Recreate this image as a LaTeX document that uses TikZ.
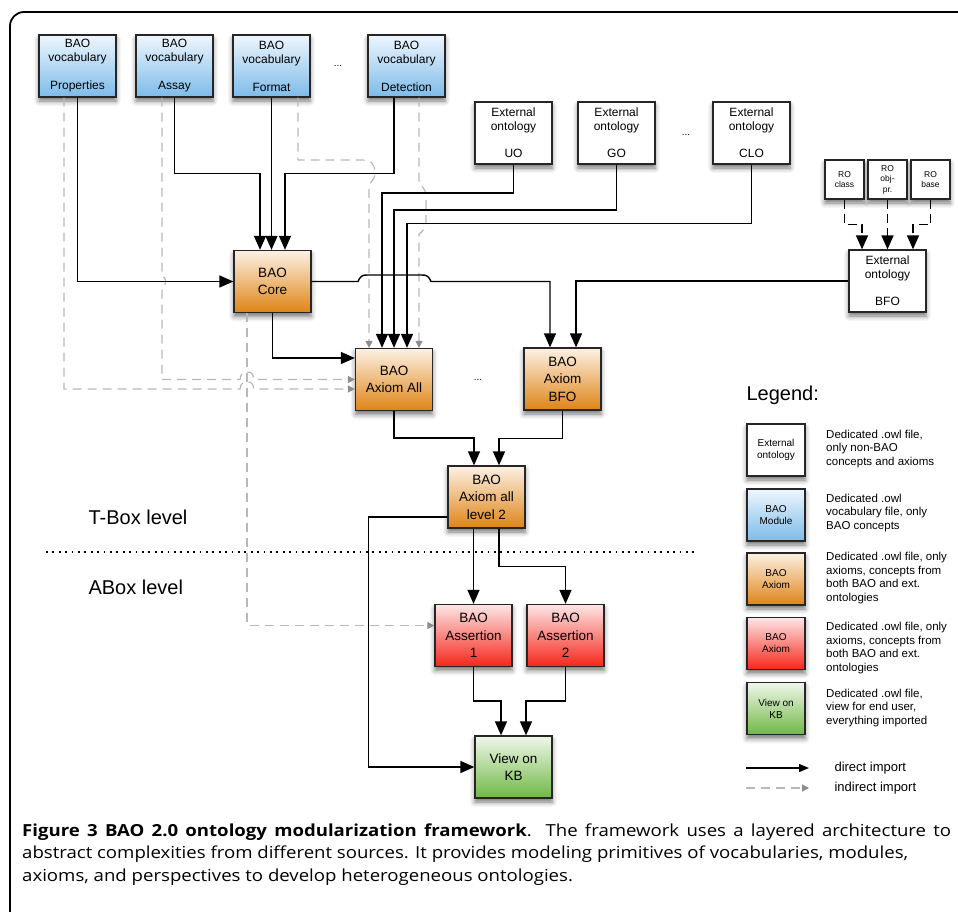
\documentclass[tikz,border=0pt]{standalone}
\usepackage{fontspec}
\setmainfont{Liberation Sans}
\newfontfamily\capfont[FakeStretch=1.12]{Open Sans}
\usetikzlibrary{arrows.meta,shadows.blur}

\definecolor{blueTop}{HTML}{EEF6FD}
\definecolor{blueBot}{HTML}{7DBBE9}
\definecolor{orTop}{HTML}{FCF1E4}
\definecolor{orBot}{HTML}{DF8416}
\definecolor{redTop}{HTML}{FDE6E6}
\definecolor{redBot}{HTML}{F5261A}
\definecolor{grTop}{HTML}{F0F7EA}
\definecolor{grBot}{HTML}{70B845}
\definecolor{indGray}{HTML}{B8B8B8}
\definecolor{tipGray}{HTML}{8C8C8C}

\tikzset{
  box/.style={draw=black!85, line width=1.3pt, minimum width=77pt, minimum height=62pt,
    inner sep=0pt, align=center,
    blur shadow={shadow xshift=0pt, shadow yshift=-4pt, shadow blur radius=5pt, shadow opacity=55}},
  voc/.style={box, top color=blueTop, bottom color=blueBot, font=\fontsize{12}{14}\selectfont},
  ext/.style={box, fill=white, font=\fontsize{12}{13.7}\selectfont},
  ax/.style={box, top color=orTop, bottom color=orBot, font=\fontsize{13.5}{17.5}\selectfont},
  asr/.style={box, top color=redTop, bottom color=redBot, font=\fontsize{13.5}{17.5}\selectfont},
  kbbox/.style={box, top color=grTop, bottom color=grBot, font=\fontsize{13.5}{17.5}\selectfont},
  ro/.style={box, fill=white, minimum width=39pt, minimum height=39pt, font=\fontsize{8.5}{10.5}\selectfont},
  leg/.style={box, minimum width=58pt, minimum height=52pt, font=\fontsize{10}{12}\selectfont},
  desc/.style={anchor=west, align=left, inner sep=0pt, font=\fontsize{11.5}{13.4}\selectfont},
  imp/.style={line width=1.4pt, -{Triangle[length=14pt,width=12pt]}},
  roimp/.style={imp, dash pattern=on 9pt off 5pt},
  ind/.style={indGray, line width=1.2pt, dash pattern=on 9pt off 6pt,
    -{Triangle[length=7pt,width=7pt,color=tipGray,fill=tipGray]}},
  capline/.style={anchor=base west, inner sep=0pt, font=\capfont\fontsize{16.6}{22}\selectfont},
}

\begin{document}
\begin{tikzpicture}[x=1pt, y=-1pt]
    \useasboundingbox (0,0) rectangle (958,911);
    \draw[line width=1.8pt, rounded corners=14pt] (10,940) -- (10,12) -- (990,12);

    \node[voc] (Prop) at (77.5,66) {BAO\\vocabulary\\[14pt]Properties};
    \node[voc] (Assay) at (174.5,66) {BAO\\vocabulary\\[14pt]Assay};
    \node[voc] (Format) at (271.5,66) {BAO\\vocabulary\\[14pt]Format};
    \node[voc] (Detect) at (406.5,66) {BAO\\vocabulary\\[14pt]Detection};
    \node[font=\fontsize{10}{12}\selectfont] (dotsA) at (338,66) {...};

    \node[ext] (UO) at (513.5,133) {External\\ontology\\[13.7pt]UO};
    \node[ext] (GO) at (616.5,133) {External\\ontology\\[13.7pt]GO};
    \node[ext] (CLO) at (751.5,133) {External\\ontology\\[13.7pt]CLO};
    \node[font=\fontsize{10}{12}\selectfont] (dotsB) at (686,135) {...};

    \node[ro] (ROc) at (844.5,179.5) {RO\\class};
    \node[ro] (ROo) at (887.5,179.5) {RO\\obj-\\pr.};
    \node[ro] (ROb) at (930.5,179.5) {RO\\base};
    \node[ext] (BFO) at (887.5,281) {External\\ontology\\[13.7pt]BFO};

    \node[ax] (Core) at (272.5,281.5) {BAO\\Core};
    \node[ax] (AxAll) at (394,379.5) {BAO\\Axiom All};
    \node[ax] (AxBFO) at (562.5,379) {BAO\\Axiom\\BFO};
    \node[font=\fontsize{10}{12}\selectfont] (dotsC) at (478,380) {...};
    \node[ax] (AxL2) at (486.5,497) {BAO\\Axiom all\\level 2};
    \node[asr] (As1) at (473.5,635.5) {BAO\\Assertion\\1};
    \node[asr] (As2) at (565.5,635.5) {BAO\\Assertion\\2};
    \node[kbbox] (KB) at (513.5,767) {View on\\KB};

    \node[anchor=west, font=\fontsize{20}{24}\selectfont] (tbox) at (85,517) {T-Box level};
    \node[anchor=west, font=\fontsize{20}{24}\selectfont] (abox) at (85,587) {ABox level};
    \coordinate (sepL) at (46,552);
    \coordinate (sepR) at (697,552);
    \draw[line width=1.8pt, dash pattern=on 1.8pt off 4.6pt] (sepL) -- (sepR);

    % indirect imports
    \draw[ind] ([xshift=-13.5pt]Prop.south) -- (64,389) -- (240,389) .. controls (241,383) and (243,382) .. (247,382) .. controls (251,382) and (253,383) .. (254,389) -- ([yshift=-9.5pt]AxAll.west);
    \draw[ind] ([xshift=-12.5pt]Assay.south) -- (162,276) .. controls (167,277) and (167,286) .. (162,287) -- (162,379.5) -- (240,379.5) .. controls (241,373) and (243,372) .. (247,372) .. controls (251,372) and (253,373) .. (254,379.5) -- (AxAll.west);
    \draw[ind] ([xshift=26.5pt]Format.south) -- (298,160) -- (362,160) .. controls (372,160) and (375,165) .. (375,173) .. controls (375,181) and (369,181) .. (369,188) -- ([xshift=-25pt]AxAll.north);
    \draw[ind] ([xshift=12.5pt]Detect.south) -- (419,184) .. controls (425,188) and (426,192) .. (426,198) -- (426,220) .. controls (426,226) and (425,230) .. (419,234) -- ([xshift=25pt]AxAll.north);
    \draw[ind] ([xshift=-25.5pt]Core.south) |- ([yshift=10pt]As1.west);

    % direct imports
    \draw[imp] (Prop.south) |- (Core.west);
    \draw[imp] (Assay.south) -- ++(0,76) -| ([xshift=-12.5pt]Core.north);
    \draw[imp] (Format.south) -- (Format.south |- Core.north);
    \draw[imp] ([xshift=-12.5pt]Detect.south) -- ++(0,76) -| ([xshift=12.5pt]Core.north);
    \draw[imp] (Core.south) |- ([yshift=21.5pt]AxAll.west);
    \draw[imp] (UO.south) -- ++(0,28.5) -| ([xshift=-12pt]AxAll.north);
    \draw[imp] (GO.south) -- ++(0,45.5) -| (AxAll.north);
    \draw[imp] (CLO.south) -- ++(0,59) -| ([xshift=13pt]AxAll.north);
    \draw[imp] (Core.east) -- (358,281.5) .. controls (361,275) and (363,275) .. (368,275) -- (421,275) .. controls (426,275) and (428,275) .. (431,281.5) -- (550,281.5) -- ([xshift=-12.5pt]AxBFO.north);
    \draw[imp] (BFO.west) -| ([xshift=13.5pt]AxBFO.north);
    \draw[roimp] (ROc.south) -- ++(0,25) -| ([xshift=-25.5pt]BFO.north);
    \draw[roimp] (ROo.south) -- (BFO.north);
    \draw[roimp] (ROb.south) -- ++(0,25) -| ([xshift=25.5pt]BFO.north);
    \draw[imp] (AxAll.south) -- ++(0,27) -| ([xshift=-12.5pt]AxL2.north);
    \draw[imp] (AxBFO.south) -- ++(0,28) -| ([xshift=12.5pt]AxL2.north);
    \draw[imp] (As1.north |- AxL2.south) -- (As1.north);
    \draw[imp] ([xshift=12.5pt]AxL2.south) -- ++(0,38) -| (As2.north);
    \draw[imp] ([yshift=-20pt]AxL2.west) -- ++(-79,0) |- (KB.west);
    \draw[imp] (As1.south) -- ++(0,34) -| ([xshift=-12.5pt]KB.north);
    \draw[imp] (As2.south) -- ++(0,34) -| ([xshift=12.5pt]KB.north);

    % legend
    \node[anchor=west, font=\fontsize{20}{24}\selectfont] (legT) at (743,395) {Legend:};
    \node[leg, fill=white] (L1) at (776,450) {External\\ontology};
    \node[leg, top color=blueTop, bottom color=blueBot] (L2) at (776,515) {BAO\\Module};
    \node[leg, top color=orTop, bottom color=orBot] (L3) at (776,579) {BAO\\Axiom};
    \node[leg, top color=redTop, bottom color=redBot] (L4) at (776,643.5) {BAO\\Axiom};
    \node[leg, top color=grTop, bottom color=grBot] (L5) at (776,708.5) {View on\\KB};
    \node[desc] (D1) at (826,449) {Dedicated .owl file,\\only non-BAO\\concepts and axioms};
    \node[desc] (D2) at (826,513) {Dedicated .owl\\vocabulary file, only\\BAO concepts};
    \node[desc] (D3) at (826,578) {Dedicated .owl file, only\\axioms, concepts from\\both BAO and ext.\\ontologies};
    \node[desc] (D4) at (826,648) {Dedicated .owl file, only\\axioms, concepts from\\both BAO and ext.\\ontologies};
    \node[desc] (D5) at (826,708) {Dedicated .owl file,\\view for end user,\\everything imported};
    \coordinate (dS) at (746,768);
    \coordinate (dE) at (809,768);
    \coordinate (iS) at (746,788);
    \coordinate (iE) at (809,788);
    \draw[line width=1.4pt, -{Triangle[length=10pt,width=8pt]}] (dS) -- (dE);
    \draw[ind] (iS) -- (iE);
    \node[anchor=west, font=\fontsize{13}{15}\selectfont] (dLbl) at (831,768) {direct import};
    \node[anchor=west, font=\fontsize{13}{15}\selectfont] (iLbl) at (831,788) {indirect import};

    % caption
    \node[capline] (cap1) at (22,836) {\makebox[929pt][s]{\textbf{Figure 3 BAO 2.0 ontology modularization framework}. The framework uses a layered architecture to}};
    \node[capline] (cap2) at (22,858.5) {abstract complexities from different sources. It provides modeling primitives of vocabularies, modules,};
    \node[capline] (cap3) at (22,881) {axioms, and perspectives to develop heterogeneous ontologies.};
\end{tikzpicture}
\end{document}
